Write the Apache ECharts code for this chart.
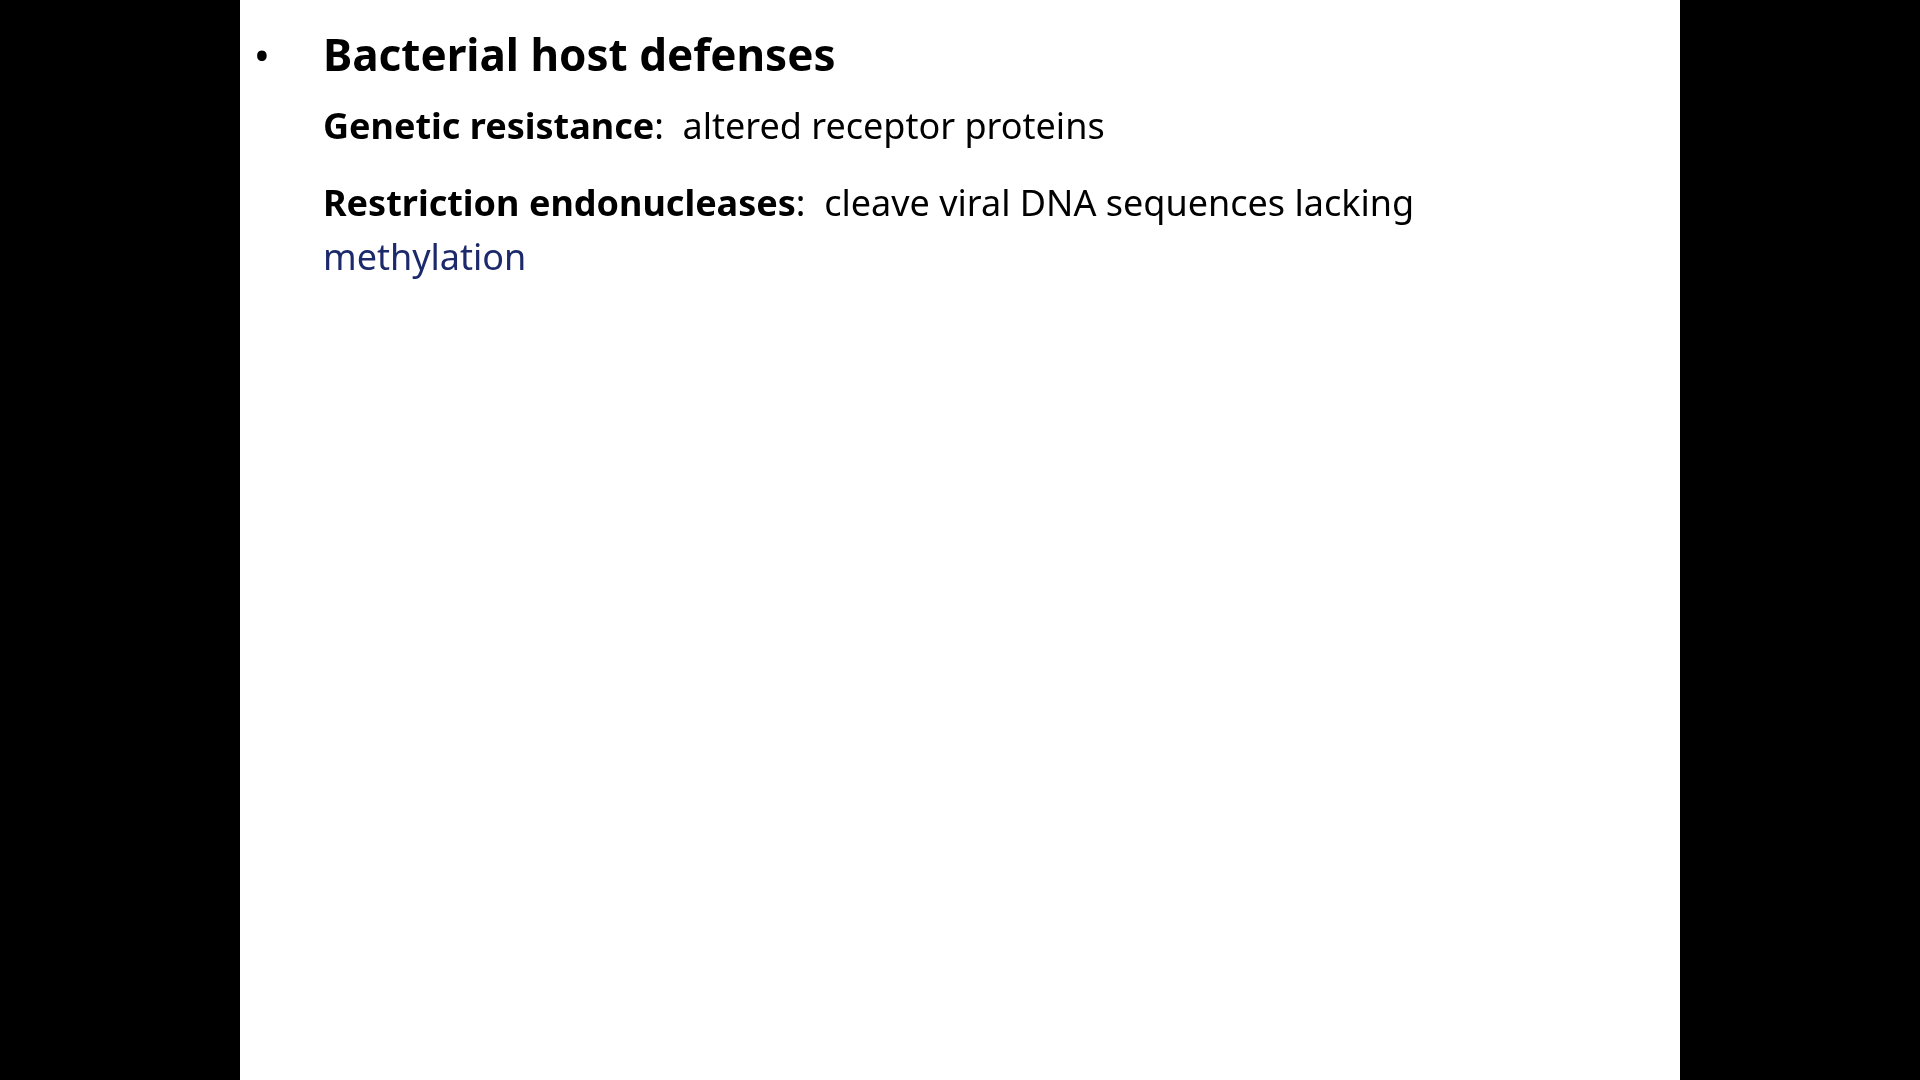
<!DOCTYPE html>
<html><head><meta charset="utf-8">
<script src="https://cdn.jsdelivr.net/npm/echarts@6/dist/echarts.min.js"></script>
<style>html,body{margin:0;background:#000}#chart{width:1920px;height:1080px}</style>
</head><body><div id="chart"></div>
<script>
// slide text content
const TITLE='Bacterial host defenses';
const TERMS=['Genetic resistance','Restriction endonucleases'];
const DEFS=['altered receptor proteins','cleave viral DNA sequences lacking'];
const WRAP='methylation';

const CHART=echarts.init(document.getElementById('chart'));
const NAVY='#1c2a6b', F='"Noto Sans", sans-serif';
const rich={b:{fontFamily:F,fontSize:36,fontWeight:'bold',color:NAVY},
            n:{fontFamily:F,fontSize:36,color:NAVY}};
const rowY=[129,206];
CHART.setOption({
  backgroundColor:'#000',
  graphic:[
    {type:'rect',shape:{x:240,y:0,width:1440,height:1080},style:{fill:'#fff'}},
    {type:'text',x:262,y:58,style:{text:'•',font:'bold 34px '+F,fill:'#000',verticalAlign:'middle',align:'center'}},
    {type:'text',x:323,y:58,style:{text:TITLE,font:'bold 44px '+F,fill:'#000',verticalAlign:'middle'}},
    ...TERMS.map((t,i)=>({type:'text',x:323,y:rowY[i],
      style:{text:`{b|${t}}{n|:  ${DEFS[i]}}`,rich,verticalAlign:'middle'}})),
    {type:'text',x:323,y:260,style:{text:WRAP,font:'36px '+F,fill:NAVY,verticalAlign:'middle'}},
  ]
});
</script></body></html>
